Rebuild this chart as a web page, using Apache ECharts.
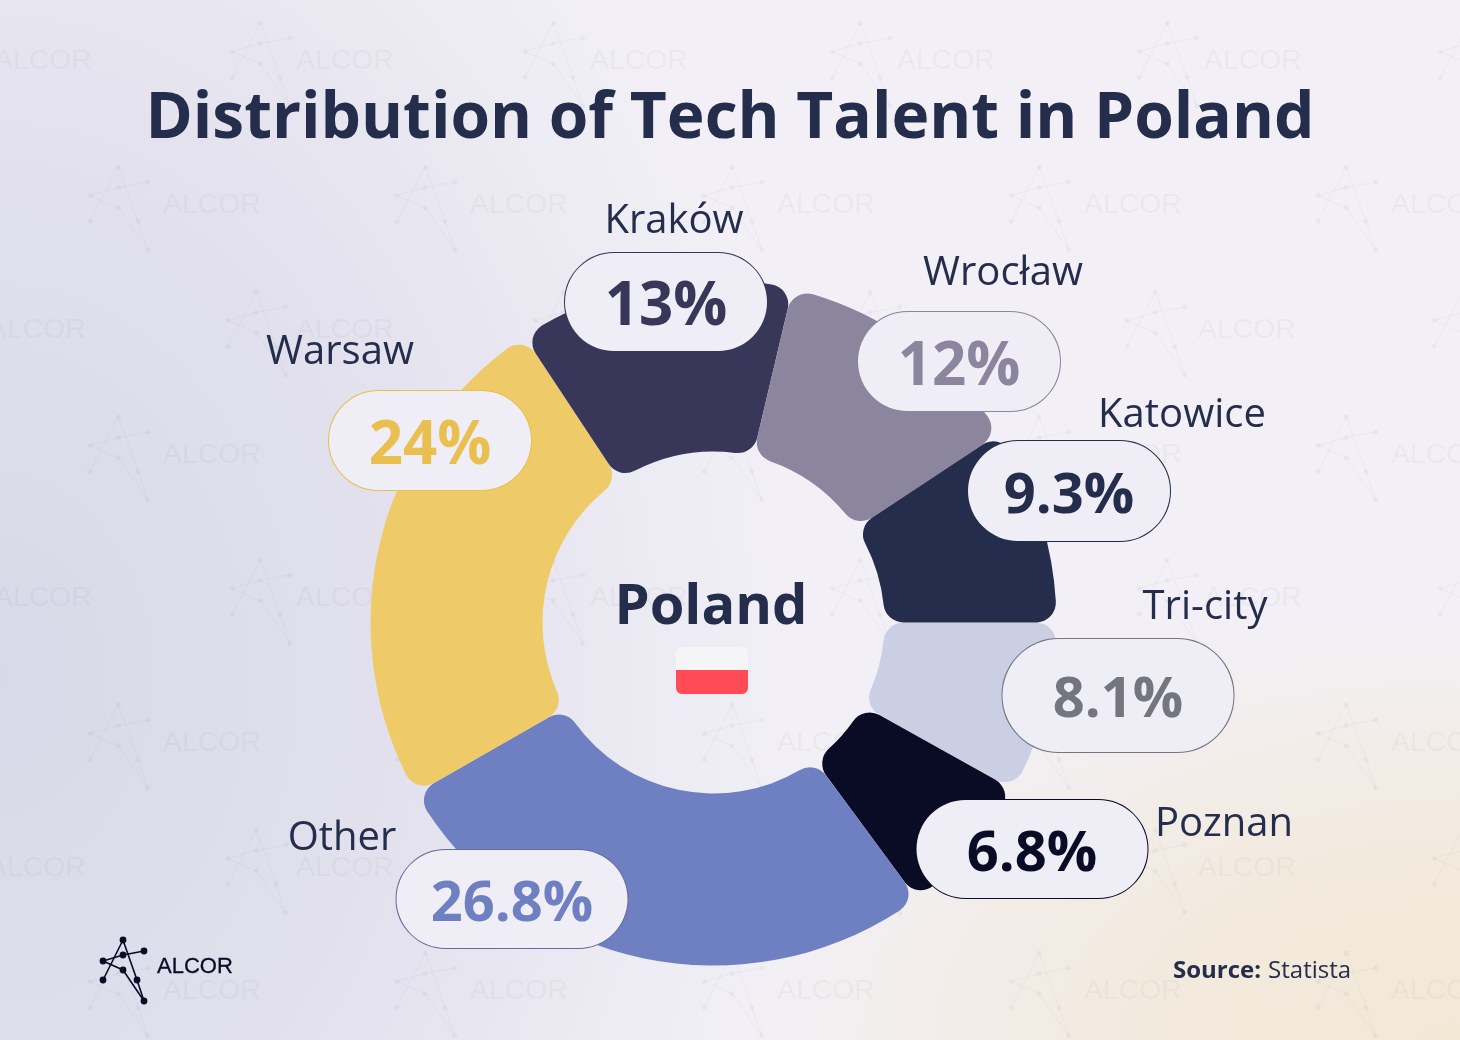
<!DOCTYPE html>
<html>
<head>
<meta charset="utf-8">
<style>
html,body{margin:0;padding:0;width:1460px;height:1040px;overflow:hidden;
background:
 radial-gradient(ellipse 720px 430px at 100% 100%, #f3e8d6 0%, rgba(243,232,214,.75) 45%, rgba(243,232,214,0) 100%),
 radial-gradient(ellipse 800px 1050px at 0% 65%, #d9d8e8 0%, rgba(217,216,232,.65) 50%, rgba(217,216,232,0) 100%),
 #f2f0f6;}
#c{width:1460px;height:1040px;}
</style>
</head>
<body>
<div id="c"></div>
<script src="https://cdn.jsdelivr.net/npm/echarts@6/dist/echarts.min.js"></script>
<script>
// Data, clockwise from due east
const categories = ['Tri-city','Poznan','Other','Warsaw','Kraków','Wrocław','Katowice'];
const values = [8.1,6.8,26.8,24,13,12,9.3];
const titleText = 'Distribution of Tech Talent in Poland';

// Styles
const sliceColors = ['#cbcfe3','#0a0c26','#6e80c1','#eeca69','#393759','#8b859e','#252d4d'];
const pillText = ['#73757f','#0a0c26','#6e80c1','#e9bf4f','#393759','#8b859e','#252d4d'];
const pillBorder = ['#73757f','#0a0c26','#666c9c','#e9bf4f','#393759','#8b859e','#252d4d'];
const pillFont = [56,56,56,60,60,60,56];
const pillSize = [[231,113],[231,98],[231,98],[202,99],[202,98],[202,99],[202,100]];
const pillPos = [[1118,695.5],[1032,849],[512,899],[430,440.5],[666,302],[959,361.5],[1069,491]];
const valueDy = 6;
const namePos = [[1205,607.5],[1224,824.5],[342,838.5],[340,352.5],[674,221.5],[1003,273.5],[1182,415.5]];
const FONT = '"Open Sans"';
const INK = '#252d4d';
const CENTER = [713.5,622.5];
const RADIUS = [171,343];

// Watermark layout
const wmRows = [
 {top:23, logos:[-75,232,525,832,1139,1440], texts:[-6,296,590,897,1204]},
 {top:167,logos:[90,397,704,1011,1318], texts:[163,470,777,1084,1391]},
 {top:292,logos:[-78,228,535,842,1127,1434], texts:[-12,296,604,911,1198]},
 {top:417,logos:[90,397,704,1011,1318], texts:[163,470,777,1084,1391]},
 {top:560,logos:[-75,232,525,832,1139,1440], texts:[-6,296,590,897,1204]},
 {top:705,logos:[90,397,704,1011,1318], texts:[163,470,777,1084,1391]},
 {top:830,logos:[-78,228,535,842,1127,1434], texts:[-12,296,604,911,1198]},
 {top:953,logos:[90,397,704,1011,1318], texts:[163,470,777,1084,1391]}
];
const logoNodes = [[20,0],[41,11],[0,21],[20,15],[20,30],[34,40],[0,40],[41,61]];
const logoPaths = [[6,0,5,7],[2,4,7],[2,3,1]];

function logo(x0,y0,sx,sy,color,lw,r,z){
  const pt = i => [x0+logoNodes[i][0]*sx, y0+logoNodes[i][1]*sy];
  const out = [];
  logoPaths.forEach(p=>out.push({type:'polyline',silent:true,z:z,shape:{points:p.map(pt)},style:{stroke:color,lineWidth:lw,fill:null}}));
  logoNodes.forEach((n,i)=>{const q=pt(i);out.push({type:'circle',silent:true,z:z,shape:{cx:q[0],cy:q[1],r:r},style:{fill:color}});});
  return out;
}
const WM='rgba(90,90,125,0.05)';
const graphics=[];
wmRows.forEach(row=>{
  row.logos.forEach(x=>graphics.push(...logo(x,row.top,1.41,1.36,WM,1,2.5,-10)));
  row.texts.forEach(x=>graphics.push({type:'text',silent:true,z:-10,x:x,y:row.top+38,style:{text:'ALCOR',font:'28.4px "Liberation Sans"',fill:WM,textVerticalAlign:'middle'}}));
});
graphics.push(...logo(103,940,1,1,'#0a0c26',1.6,3.4,5));
graphics.push({type:'text',silent:true,z:5,x:157,y:967,style:{text:'ALCOR',font:'22px "Liberation Sans"',fill:'#0a0c26',stroke:'#0a0c26',lineWidth:0.3,textVerticalAlign:'middle'}});
graphics.push({type:'text',silent:true,z:5,x:711,y:608,style:{text:'Poland',font:'bold 56px '+FONT,fill:INK,textAlign:'center',textVerticalAlign:'middle'}});
graphics.push({type:'rect',silent:true,z:5,shape:{x:676,y:647,width:72,height:47,r:6},style:{fill:'#f5f4f6'}});
graphics.push({type:'rect',silent:true,z:6,shape:{x:676,y:670,width:72,height:24,r:[0,0,6,6]},style:{fill:'#ff4b55'}});
graphics.push({type:'text',silent:true,z:5,x:1173,y:971,style:{
  rich:{b:{font:'bold 24px '+FONT,fill:INK},n:{font:'24px '+FONT,fill:INK,padding:[0,0,0,7]}},
  text:'{b|Source:}{n|Statista}',textVerticalAlign:'middle'}});

const overlayPie = (z,extra) => Object.assign({
  type:'pie',z:z,center:CENTER,radius:RADIUS,startAngle:0,clockwise:true,silent:true,
  avoidLabelOverlap:false,
  itemStyle:{color:'transparent'},
  labelLine:{show:false},
  emphasis:{disabled:true}
},extra);

const chart = echarts.init(document.getElementById('c'),null,{renderer:'canvas'});
chart.setOption({
  backgroundColor:'transparent',
  animation:false,
  title:{text:titleText,left:'center',top:83,textStyle:{fontFamily:FONT,fontWeight:'bold',fontSize:64,color:INK}},
  tooltip:{show:false},
  graphic:{elements:graphics},
  series:[
    // slices, with the rounded pill behind each value
    {
      type:'pie',z:2,center:CENTER,radius:RADIUS,startAngle:0,clockwise:true,silent:true,
      avoidLabelOverlap:false,
      itemStyle:{borderRadius:20},
      labelLine:{show:false},
      emphasis:{disabled:true},
      data:categories.map((c,i)=>({
        name:c,value:values[i],itemStyle:{color:sliceColors[i]},
        label:{
          show:true,position:'outside',formatter:' ',
          width:pillSize[i][0],height:pillSize[i][1],lineHeight:pillSize[i][1],
          backgroundColor:'#efeef6',borderColor:pillBorder[i],borderWidth:1,borderRadius:pillSize[i][1]/2
        }
      })),
      labelLayout:p=>{const i=p.dataIndex;return {x:pillPos[i][0],y:pillPos[i][1],align:'center',verticalAlign:'middle',hideOverlap:false};}
    },
    // percentage values
    overlayPie(3,{
      data:categories.map((c,i)=>({
        name:c,value:values[i],
        label:{show:true,position:'outside',formatter:'{c}%',fontFamily:FONT,fontWeight:'bold',fontSize:pillFont[i],color:pillText[i]}
      })),
      labelLayout:p=>{const i=p.dataIndex;return {x:pillPos[i][0],y:pillPos[i][1]+valueDy,align:'center',verticalAlign:'middle',hideOverlap:false};}
    }),
    // city names
    overlayPie(4,{
      label:{show:true,position:'outside',formatter:'{b}',fontFamily:FONT,fontSize:40,color:INK},
      data:categories.map((c,i)=>({name:c,value:values[i]})),
      labelLayout:p=>{const i=p.dataIndex;return {x:namePos[i][0],y:namePos[i][1],align:'center',verticalAlign:'middle',hideOverlap:false};}
    })
  ]
});
</script>
</body>
</html>
